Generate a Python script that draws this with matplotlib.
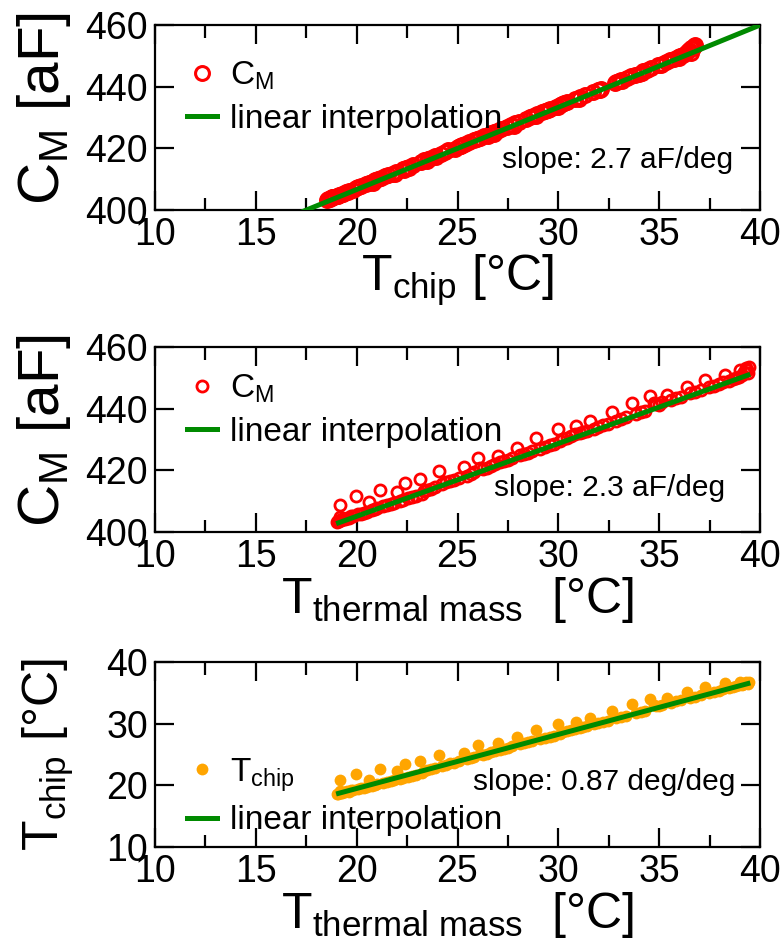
import numpy as np
import matplotlib
matplotlib.use('Agg')
import matplotlib.pyplot as plt
from matplotlib.ticker import MultipleLocator

plt.rcParams['font.family'] = ['Liberation Sans', 'DejaVu Sans']
plt.rcParams['mathtext.fontset'] = 'custom'
plt.rcParams['mathtext.rm'] = 'Liberation Sans'
plt.rcParams['mathtext.it'] = 'Liberation Sans'

# temperature of the thermal mass [deg C]
t_mass = [19.00, 19.05, 19.10, 19.15, 19.17, 19.20, 19.25, 19.30, 19.40, 19.50,
          19.60, 19.70, 19.80, 19.95, 20.05, 20.20, 20.35, 20.50, 20.60, 20.75,
          20.90, 21.00, 21.15, 21.30, 21.50, 21.70, 21.85, 22.00, 22.15, 22.30,
          22.40, 22.55, 22.75, 22.95, 23.14, 23.25, 23.35, 23.50, 23.70, 23.90,
          24.10, 24.25, 24.45, 24.65, 24.85, 25.05, 25.30, 25.45, 25.65, 25.80,
          26.00, 26.10, 26.25, 26.45, 26.65, 26.85, 27.00, 27.10, 27.30, 27.50,
          27.70, 27.95, 28.10, 28.30, 28.50, 28.70, 28.90, 29.10, 29.35, 29.60,
          29.80, 30.00, 30.10, 30.25, 30.45, 30.65, 30.85, 30.90, 31.05, 31.20,
          31.40, 31.57, 31.75, 31.95, 32.20, 32.45, 32.66, 32.85, 33.10, 33.35,
          33.65, 33.85, 34.10, 34.30, 34.54, 34.75, 34.85, 35.00, 35.15, 35.40,
          35.60, 35.85, 36.10, 36.37, 36.55, 36.80, 37.05, 37.27, 37.45, 37.70,
          37.95, 38.15, 38.26, 38.45, 38.65, 38.80, 38.95, 39.00, 39.10, 39.20,
          39.30, 39.35, 39.40, 39.45]

# chip temperature [deg C]
t_chip = [18.55, 18.60, 18.70, 19.10, 20.80, 18.75, 18.80, 18.90, 18.85, 19.05,
          19.00, 19.30, 19.25, 21.90, 19.45, 19.55, 19.60, 19.80, 20.90, 19.95,
          20.05, 20.20, 22.60, 20.45, 20.60, 20.75, 20.85, 22.35, 21.05, 21.20,
          23.50, 21.40, 21.55, 21.75, 23.95, 21.95, 22.30, 22.45, 22.60, 22.80,
          24.90, 23.20, 23.35, 23.55, 23.70, 23.90, 25.20, 24.20, 24.40, 24.55,
          26.50, 25.10, 25.00, 25.15, 25.35, 25.55, 26.80, 25.80, 25.95, 26.10,
          26.30, 27.80, 26.65, 26.80, 26.95, 27.15, 28.90, 27.45, 27.65, 27.85,
          28.05, 30.00, 28.40, 28.60, 28.75, 28.95, 29.20, 30.20, 29.35, 29.50,
          29.60, 31.00, 29.90, 30.10, 30.30, 30.45, 32.05, 30.85, 31.05, 31.30,
          33.15, 31.70, 31.95, 32.10, 34.00, 33.00, 32.85, 32.80, 33.10, 34.15,
          33.40, 33.60, 33.80, 35.10, 34.20, 34.40, 34.60, 36.00, 34.95, 35.15,
          35.35, 35.55, 36.60, 35.75, 35.95, 36.05, 36.20, 36.70, 36.35, 36.50,
          36.75, 36.60, 36.45, 36.80]

# capacitance C_M [aF]
c_m = [403.3, 403.5, 403.7, 404.8, 408.8, 403.9, 404.1, 404.3, 404.1, 404.6,
       404.5, 405.3, 405.1, 411.7, 405.7, 406.0, 406.1, 406.6, 409.6, 407.0,
       407.3, 407.7, 413.6, 408.3, 408.7, 409.1, 409.4, 412.9, 409.9, 410.3,
       416.0, 410.9, 411.3, 411.8, 417.2, 412.3, 413.3, 413.7, 414.1, 414.6,
       419.7, 415.7, 416.1, 416.6, 417.0, 417.5, 421.0, 418.3, 418.9, 419.3,
       424.0, 420.7, 420.5, 420.9, 421.4, 422.0, 424.8, 422.6, 423.0, 423.4,
       423.9, 427.4, 424.9, 425.3, 425.7, 426.2, 430.4, 427.0, 427.5, 428.1,
       428.6, 433.3, 429.5, 430.1, 430.5, 431.0, 431.7, 434.4, 432.1, 432.5,
       432.7, 436.0, 433.5, 434.1, 434.6, 435.0, 438.8, 436.1, 436.6, 437.3,
       441.7, 438.3, 439.0, 439.4, 444.0, 441.8, 441.4, 441.3, 442.1, 444.4,
       442.9, 443.4, 443.9, 447.0, 445.0, 445.5, 446.1, 449.3, 447.0, 447.5,
       448.1, 448.6, 451.0, 449.1, 449.7, 450.0, 450.4, 452.6, 450.8, 452.0,
       453.2, 452.5, 451.5, 453.4]

# linear fits (slope, intercept)
fit_cm_chip = (2.667, 353.3)
fit_cm_mass = (2.36, 357.9)
fit_chip_mass = (0.877, 1.95)

t_mass = np.array(t_mass)
t_chip = np.array(t_chip)
c_m = np.array(c_m)

green = '#008a00'
red = '#ff0000'
orange = '#ffa500'


def style_axes(ax, ymajor):
    for s in ax.spines.values():
        s.set_linewidth(1.6)
    ax.set_xlim(10, 40)
    ax.xaxis.set_major_locator(MultipleLocator(5))
    ax.xaxis.set_minor_locator(MultipleLocator(2.5))
    ax.yaxis.set_major_locator(MultipleLocator(ymajor))
    ax.tick_params(which='both', direction='in', top=True, right=True,
                   width=1.6, labelsize=27, pad=5)
    ax.tick_params(which='major', length=14)
    ax.tick_params(which='minor', length=9)


def add_legend(ax, y):
    ax.legend(loc='upper left', bbox_to_anchor=(0.02, y), frameon=False,
              fontsize=24, handlelength=0.9, handletextpad=0.4,
              labelspacing=0.35, borderaxespad=0.2)


fig = plt.figure(figsize=(7.83, 9.51), dpi=100)
left, width = 155 / 783, 605 / 783

# panel 1: C_M vs T_chip
ax1 = fig.add_axes([left, 1 - 210 / 951, width, 185 / 951])
ax1.plot(t_chip, c_m, 'o', mfc='none', mec=red, mew=2.2, ms=10,
         label=r'$\mathrm{C_M}$', zorder=2)
xx = np.array([10, 40])
ax1.plot(xx, fit_cm_chip[0] * xx + fit_cm_chip[1], color=green, lw=3.6,
         label='linear interpolation', zorder=3)
ax1.set_ylim(400, 460)
style_axes(ax1, 20)
ax1.set_xlabel(r'$\mathrm{T_{chip}}$ [°C]', fontsize=36, labelpad=0)
ax1.set_ylabel(r'$\mathrm{C_M}$ [aF]', fontsize=42)
ax1.yaxis.set_label_coords(-0.135, 0.55)
add_legend(ax1, 0.92)
ax1.text(0.955, 0.27, 'slope: 2.7 aF/deg', transform=ax1.transAxes,
         ha='right', va='center', fontsize=21.5)

# panel 2: C_M vs T_thermal mass
ax2 = fig.add_axes([left, 1 - 532 / 951, width, 185 / 951])
ax2.plot(t_mass, c_m, 'o', mfc='none', mec=red, mew=2.0, ms=8,
         label=r'$\mathrm{C_M}$', zorder=2)
xm = np.array([t_mass.min() + 0.1, t_mass.max() - 0.05])
ax2.plot(xm, fit_cm_mass[0] * xm + fit_cm_mass[1], color=green, lw=3.6,
         label='linear interpolation', zorder=3)
ax2.set_ylim(400, 460)
style_axes(ax2, 20)
ax2.set_xlabel(r'$\mathrm{T_{thermal\ mass}}$  [°C]', fontsize=36, labelpad=0)
ax2.set_ylabel(r'$\mathrm{C_M}$ [aF]', fontsize=42)
ax2.yaxis.set_label_coords(-0.135, 0.55)
add_legend(ax2, 0.97)
ax2.text(0.942, 0.24, 'slope: 2.3 aF/deg', transform=ax2.transAxes,
         ha='right', va='center', fontsize=21.5)

# panel 3: T_chip vs T_thermal mass
ax3 = fig.add_axes([left, 1 - 847 / 951, width, 185 / 951])
ax3.plot(t_mass, t_chip, 'o', color=orange, mec='none', ms=8.5,
         label=r'$\mathrm{T_{chip}}$', zorder=2)
ax3.plot(xm, fit_chip_mass[0] * xm + fit_chip_mass[1], color=green, lw=3.6,
         label='linear interpolation', zorder=3)
ax3.set_ylim(10, 40)
style_axes(ax3, 10)
ax3.set_xlabel(r'$\mathrm{T_{thermal\ mass}}$  [°C]', fontsize=36, labelpad=0)
ax3.set_ylabel(r'$\mathrm{T_{chip}}$ [°C]', fontsize=36)
ax3.yaxis.set_label_coords(-0.13, 0.5)
add_legend(ax3, 0.6)
ax3.text(0.959, 0.35, 'slope: 0.87 deg/deg', transform=ax3.transAxes,
         ha='right', va='center', fontsize=21.5)

fig.savefig('out.png', dpi=100)
